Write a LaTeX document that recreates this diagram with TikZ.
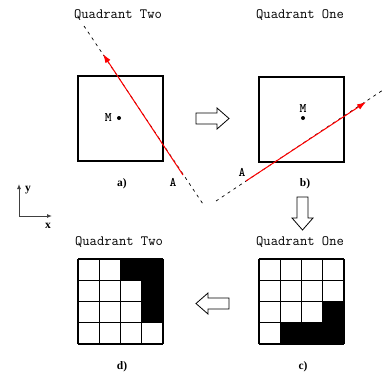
\documentclass[tikz,border=0pt]{standalone}
\usepackage{fontspec}
\setmainfont{Liberation Serif}
\usetikzlibrary{arrows.meta,positioning}

\tikzset{
  quad/.style={font=\ttfamily\fontsize{14.2}{14.2}\selectfont, inner sep=0},
  tag/.style={font=\bfseries\fontsize{11.5}{11.5}\selectfont, inner sep=0},
  ptlabel/.style={font=\ttfamily\bfseries\fontsize{13}{13}\selectfont, inner sep=0},
  panel/.style={draw, line width=1.2pt, minimum size=85pt, inner sep=0},
  mdot/.style={circle, fill, inner sep=0, minimum size=4pt},
  ray/.style={red, line width=1pt, -{Latex[length=9pt,width=6pt]}},
  trace/.style={dash pattern=on 3pt off 4pt, line width=0.7pt},
  axis/.style={gray!50!black, line width=1pt, -{Latex[length=5pt,width=4pt]}},
  cellline/.style={line width=1.2pt},
  hollow/.pic={
    \draw[line width=0.8pt, fill=white] (0,-5.5) -- (21,-5.5) -- (21,-10.5)
      -- (33,0) -- (21,10.5) -- (21,5.5) -- (0,5.5) -- cycle;
  }
}

\begin{document}
\begin{tikzpicture}[x=1pt, y=-1pt]
  \useasboundingbox (0,0) rectangle (385,375);

  % top row: the two panels
  \node[quad] (qtwo) at (118,15) {Quadrant Two};
  \node[quad] (qone) at (300,15) {Quadrant One};
  \node[panel] (boxa) at (120.5,118.5) {};
  \node[panel] (boxb) at (301.5,119.5) {};
  \node[mdot] (ma) at (119,118) {};
  \node[mdot] (mb) at (303,118) {};
  \node[ptlabel, left=5pt of ma] {M};
  \node[ptlabel, above=3pt of mb] {M};
  \node[tag] (ta) at (122,184) {a)};
  \node[tag] (tb) at (305,184) {b)};

  % rays
  \coordinate (p1) at (84,26);
  \coordinate (p2) at (203,204);
  \coordinate (q1) at (216,201);
  \coordinate (q2) at (383,90);
  \coordinate (ra0) at (183,175);
  \coordinate (ra1) at (103,54);
  \coordinate (rb0) at (246,181);
  \coordinate (rb1) at (366,102);
  \draw[trace] (p1) -- (p2);
  \draw[trace] (q1) -- (q2);
  \draw[ray] (ra0) -- (ra1);
  \draw[ray] (rb0) -- (rb1);
  \node[ptlabel] (aa) at (173,182) {A};
  \node[ptlabel] (ab) at (242,172) {A};

  % axes
  \coordinate (o) at (19,216);
  \coordinate (oy) at (19,184);
  \coordinate (ox) at (52,216);
  \draw[axis] (o) -- (oy);
  \draw[axis] (o) -- (ox);
  \node[tag] (ly) at (28,190) {y};
  \node[tag] (lx) at (48,226) {x};

  % block arrows
  \pic at (196,118.5) {hollow};
  \pic[rotate=-90] at (302.5,197) {hollow};
  \pic[rotate=180] at (229,303.5) {hollow};

  % bottom row: pixel grids
  \node[quad] (qone2) at (300,242) {Quadrant One};
  \node[quad] (qtwo2) at (119,242) {Quadrant Two};
  \begin{scope}[shift={(259,259)}]
    \foreach \c/\r in {3/2,1/3,2/3,3/3}
      \fill (\c*21.25,\r*21.25) rectangle ++(21.25,21.25);
    \foreach \i in {0,...,4} {
      \draw[cellline] (\i*21.25,0) -- (\i*21.25,85);
      \draw[cellline] (0,\i*21.25) -- (85,\i*21.25);
    }
  \end{scope}
  \begin{scope}[shift={(78,259)}]
    \foreach \c/\r in {2/0,3/0,3/1,3/2}
      \fill (\c*21.25,\r*21.25) rectangle ++(21.25,21.25);
    \foreach \i in {0,...,4} {
      \draw[cellline] (\i*21.25,0) -- (\i*21.25,85);
      \draw[cellline] (0,\i*21.25) -- (85,\i*21.25);
    }
  \end{scope}
  \node[tag] (tc) at (303,367) {c)};
  \node[tag] (td) at (122,367) {d)};
\end{tikzpicture}
\end{document}
